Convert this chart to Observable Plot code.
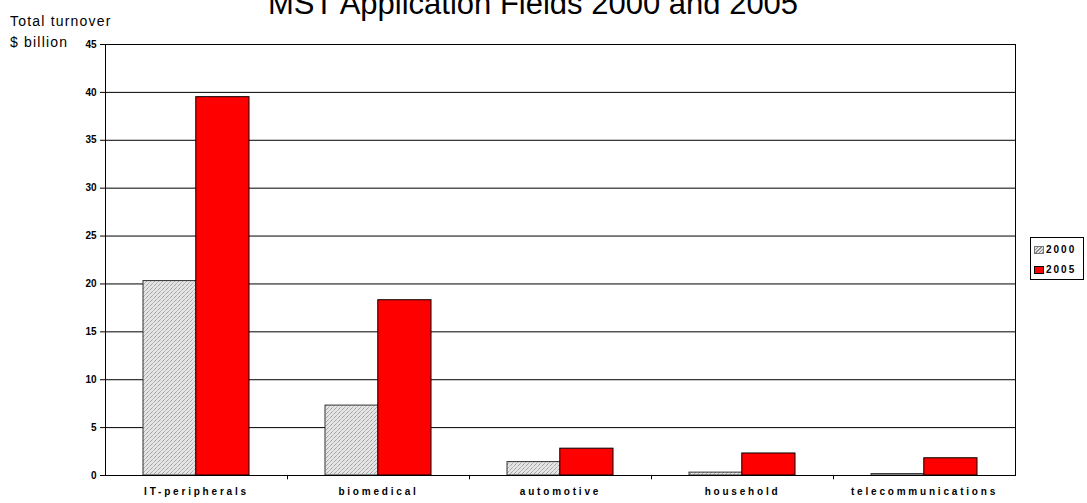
<!DOCTYPE html>
<html>
<head>
<meta charset="utf-8">
<script src="https://cdn.jsdelivr.net/npm/d3@7"></script>
<script src="https://cdn.jsdelivr.net/npm/@observablehq/plot@0.6"></script>
<style>
  html, body { margin: 0; padding: 0; background: #fff; overflow: hidden; }
  #chart { position: relative; width: 1087px; height: 503px; font-family: Arial, "Liberation Sans", sans-serif; color: #000; }
  #chart svg { position: absolute; left: 0; top: 0; }
  .title { position: absolute; left: 0; width: 1066px; top: -12px; text-align: center; font-size: 31px; line-height: 31px; white-space: nowrap; }
  .ylabel { position: absolute; left: 10px; font-size: 14px; line-height: 14px; letter-spacing: 1.2px; white-space: nowrap; }
  .legend { position: absolute; left: 1030px; top: 237px; width: 54px; height: 43px; border: 1px solid #000; background: #fff; box-sizing: border-box; font-weight: bold; font-size: 10px; letter-spacing: 2px; }
  .legend .row { position: absolute; left: 3px; height: 10px; line-height: 10px; white-space: nowrap; }
  .legend .sw { display: inline-block; width: 10px; height: 8px; border: 1px solid #000; vertical-align: -1px; margin-right: 2px; box-sizing: border-box; }
  g[aria-label^="x-axis"] text { letter-spacing: 2.8px; }
</style>
</head>
<body>
<div id="chart"></div>
<script>
// Turnover by application field, $ billion
const categories = ["IT-peripherals", "biomedical", "automotive", "household", "telecommunications"];
const values2000 = [20.3, 7.3, 1.4, 0.3, 0.15];
const values2005 = [39.5, 18.3, 2.8, 2.3, 1.8];
const yTicks = [0, 5, 10, 15, 20, 25, 30, 35, 40, 45];
const years = ["2000", "2005"];
const titleText = "MST Application Fields 2000 and 2005";
const yLabelLines = ["Total turnover", "$ billion"];

const rows2000 = categories.map((c, i) => ({category: c, year: years[0], value: values2000[i]}));
const rows2005 = categories.map((c, i) => ({category: c, year: years[1], value: values2005[i]}));

const width = 1087, height = 503;
const margin = {top: 44, right: 72, bottom: 28, left: 105};
const groupPadding = 0.42;
const step = (width - margin.left - margin.right) / categories.length;
const halfGroup = step * (1 - groupPadding) / 2;
const redFill = "#ff0000";

const svg = Plot.plot({
  width, height,
  marginTop: margin.top, marginRight: margin.right, marginBottom: margin.bottom, marginLeft: margin.left,
  style: {fontFamily: "Arial, 'Liberation Sans', sans-serif", fontSize: "10px", fontWeight: "bold", color: "#000", background: "transparent"},
  x: {domain: categories, paddingInner: groupPadding, paddingOuter: groupPadding / 2, tickSize: 0, tickPadding: 12, label: null},
  y: {domain: [0, 45], ticks: yTicks, tickSize: 5, tickPadding: 4, label: null},
  marks: [
    Plot.ruleY(yTicks, {stroke: "#000", strokeWidth: 1}),
    Plot.barY(rows2000, {x: "category", y: "value", fill: "url(#hatch2000)", stroke: "#333", strokeWidth: 1, insetRight: halfGroup}),
    Plot.barY(rows2005, {x: "category", y: "value", fill: redFill, stroke: "#000", strokeWidth: 1, insetLeft: halfGroup}),
    Plot.ruleX(categories.slice(1), {x: d => d, dx: -step / 2, y1: 0, y2: -0.45, stroke: "#000"}),
    Plot.frame({stroke: "#000", strokeWidth: 1})
  ]
});

// Dotted diagonal hatch used for the 2000 bars
const ns = "http://www.w3.org/2000/svg";
const defs = document.createElementNS(ns, "defs");
defs.innerHTML = `
  <pattern id="hatch2000" patternUnits="userSpaceOnUse" width="4" height="4">
    <rect width="4" height="4" fill="#e4e4e4"></rect>
    <path d="M-1,5 L5,-1" stroke="#8c8c8c" stroke-width="1" stroke-dasharray="1.2,0.8"></path>
  </pattern>`;
svg.insertBefore(defs, svg.firstChild);

const chart = document.getElementById("chart");
chart.appendChild(svg);

const title = document.createElement("div");
title.className = "title";
title.textContent = titleText;
chart.appendChild(title);

yLabelLines.forEach((t, i) => {
  const d = document.createElement("div");
  d.className = "ylabel";
  d.style.top = (14 + i * 21) + "px";
  d.textContent = t;
  chart.appendChild(d);
});

const legend = document.createElement("div");
legend.className = "legend";
const swatchFills = [
  "repeating-linear-gradient(135deg, #e4e4e4 0 1.5px, #8c8c8c 1.5px 2.5px)",
  redFill
];
years.forEach((y, i) => {
  const row = document.createElement("div");
  row.className = "row";
  row.style.top = (7 + i * 20) + "px";
  const sw = document.createElement("span");
  sw.className = "sw";
  sw.style.background = swatchFills[i];
  if (i === 0) sw.style.borderColor = "#777";
  row.appendChild(sw);
  row.appendChild(document.createTextNode(y));
  legend.appendChild(row);
});
chart.appendChild(legend);
</script>
</body>
</html>
